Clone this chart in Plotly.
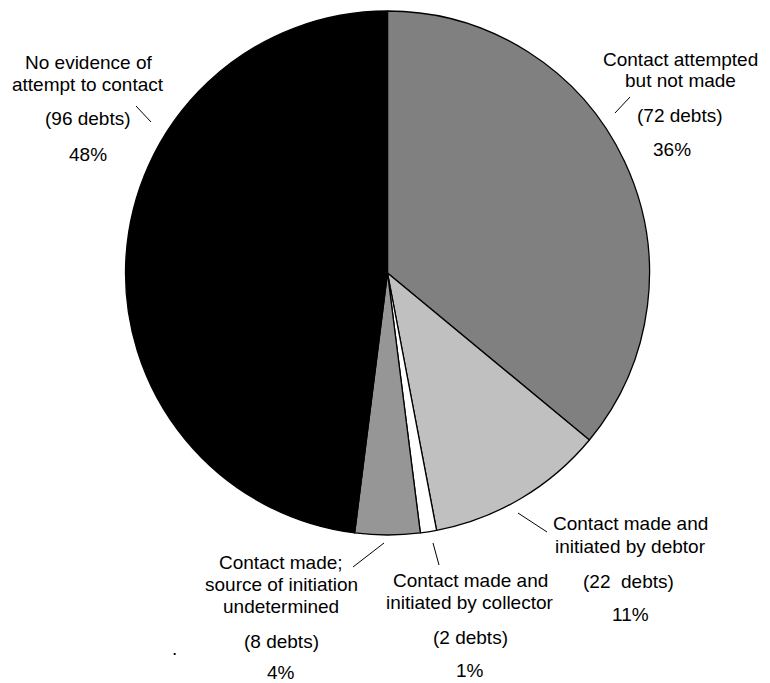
import plotly.graph_objects as go

# ---- data ----
categories = [
    "Contact attempted but not made",
    "Contact made and initiated by debtor",
    "Contact made and initiated by collector",
    "Contact made; source of initiation undetermined",
    "No evidence of attempt to contact",
]
debts = [72, 22, 2, 8, 96]
debt_labels = ["(72 debts)", "(22  debts)", "(2 debts)", "(8 debts)", "(96 debts)"]
percent_labels = ["36%", "11%", "1%", "4%", "48%"]
label_lines = [
    ["Contact attempted", "but not made"],
    ["Contact made and", "initiated by debtor"],
    ["Contact made and", "initiated by collector"],
    ["Contact made;", "source of initiation", "undetermined"],
    ["No evidence of", "attempt to contact"],
]
slice_colors = ["#808080", "#c0c0c0", "#ffffff", "#969696", "#000000"]

# ---- layout (pixel positions of labels) ----
W, H = 770, 683
label_pos = [
    dict(x=680, ys=[59, 80], dx=680, dy=115, px=672, py=149, line=(615, 113, 630, 97)),
    dict(x=630, ys=[523, 546], dx=628, dy=581, px=630, py=614, line=(518, 513, 547, 532)),
    dict(x=470, ys=[580, 602], dx=470, dy=637, px=470, py=670, line=(433, 543, 439, 565)),
    dict(x=281, ys=[562, 584, 606], dx=281, dy=641, px=281, py=672, line=(353, 567, 384, 543)),
    dict(x=88, ys=[62, 84], dx=88, dy=118, px=88, py=154, line=(136, 106, 151, 122)),
]
pie_left, pie_right, pie_top, pie_bottom = 125, 650, 11, 535

FONT = dict(family="Liberation Sans, Arial, sans-serif", size=19, color="black")

fig = go.Figure()
fig.add_trace(go.Pie(
    labels=categories,
    values=debts,
    sort=False,
    direction="clockwise",
    rotation=0,
    textinfo="none",
    hoverinfo="skip",
    marker=dict(colors=slice_colors, line=dict(color="black", width=1.3)),
    domain=dict(x=[pie_left / W, pie_right / W], y=[1 - pie_bottom / H, 1 - pie_top / H]),
    showlegend=False,
))

annotations = []
shapes = []
for lines, dl, pl, pos in zip(label_lines, debt_labels, percent_labels, label_pos):
    for txt, y in zip(lines, pos["ys"]):
        annotations.append(dict(x=pos["x"], y=y, text=txt, showarrow=False,
                                xanchor="center", yanchor="middle", font=FONT))
    annotations.append(dict(x=pos["dx"], y=pos["dy"], text=dl, showarrow=False,
                            xanchor="center", yanchor="middle", font=FONT))
    annotations.append(dict(x=pos["px"], y=pos["py"], text=pl, showarrow=False,
                            xanchor="center", yanchor="middle", font=FONT))
    x0, y0, x1, y1 = pos["line"]
    shapes.append(dict(type="line", x0=x0, y0=y0, x1=x1, y1=y1, xref="x", yref="y",
                       line=dict(color="black", width=1)))

# stray dot in the original
annotations.append(dict(x=174, y=648, text=".", showarrow=False, xanchor="center",
                        yanchor="middle", font=FONT))

fig.update_layout(
    width=W, height=H,
    margin=dict(l=0, r=0, t=0, b=0),
    paper_bgcolor="white", plot_bgcolor="rgba(0,0,0,0)",
    xaxis=dict(range=[0, W], visible=False, fixedrange=True),
    yaxis=dict(range=[H, 0], visible=False, fixedrange=True),
    annotations=annotations,
    shapes=shapes,
)

fig.write_html(
    "out.html",
    config=dict(displayModeBar=False),
    post_script="document.body.style.margin='0';document.body.style.overflow='hidden';",
)
